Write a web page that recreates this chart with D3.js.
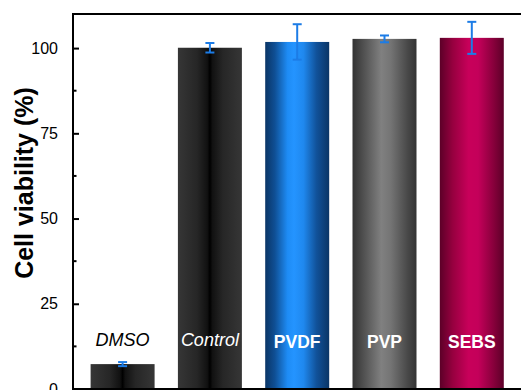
<!DOCTYPE html>
<html>
<head>
<meta charset="utf-8">
<script src="https://cdn.jsdelivr.net/npm/d3@7/dist/d3.min.js"></script>
<style>
  html, body { margin: 0; padding: 0; background: #fff; }
  svg { display: block; }
  text { font-family: "Liberation Sans", Arial, sans-serif; }
</style>
</head>
<body>
<svg id="chart" width="521" height="390"></svg>
<script>
// Cell viability per sample (%), with standard deviation
const categories = ["DMSO", "Control", "PVDF", "PVP", "SEBS"];
const viability = [7.3, 100.1, 101.8, 102.7, 103.0];
const errors = [0.6, 1.4, 5.2, 1.0, 4.7];
const yTicks = [0, 25, 50, 75, 100];
const yMinorTicks = [12.5, 37.5, 62.5, 87.5];

// Bar shading: [offset, colour] stops across the bar width
const shades = [
  [[0, "#363636"], [0.3, "#262626"], [0.46, "#111"], [0.5, "#000"], [0.54, "#111"], [0.7, "#262626"], [1, "#363636"]],
  [[0, "#363636"], [0.3, "#262626"], [0.46, "#111"], [0.5, "#000"], [0.54, "#111"], [0.7, "#262626"], [1, "#363636"]],
  [[0, "#0a3566"], [0.15, "#0f4f94"], [0.35, "#1e8cf5"], [0.45, "#2494ff"], [0.6, "#1f88ee"], [0.8, "#11529a"], [1, "#0a3566"]],
  [[0, "#333333"], [0.2, "#555555"], [0.45, "#808080"], [0.6, "#747474"], [0.85, "#4a4a4a"], [1, "#333333"]],
  [[0, "#5c0028"], [0.2, "#96003f"], [0.45, "#c8005a"], [0.6, "#c4005a"], [0.85, "#85003a"], [1, "#5c0028"]]
];
const labelStyle = [
  { fill: "#000", italic: true },
  { fill: "#fff", italic: true },
  { fill: "#fff", italic: false },
  { fill: "#fff", italic: false },
  { fill: "#fff", italic: false }
];

const svg = d3.select("#chart");
const plotLeft = 73, plotTop = 14, plotBottom = 389, plotRight = 540;

const y = d3.scaleLinear().domain([0, 110]).range([plotBottom, plotTop]);
const x = d3.scaleBand().domain(categories)
  .range([78.95, 515.45]).paddingInner(0.267).paddingOuter(0.1335);

const defs = svg.append("defs");
categories.forEach((c, i) => {
  const g = defs.append("linearGradient").attr("id", "shade" + i)
    .attr("x1", "0%").attr("x2", "100%").attr("y1", "0%").attr("y2", "0%");
  shades[i].forEach(s => g.append("stop").attr("offset", s[0]).attr("stop-color", s[1]));
});

// Bars
svg.append("g").selectAll("rect").data(categories).join("rect")
  .attr("x", d => x(d))
  .attr("width", x.bandwidth())
  .attr("y", (d, i) => y(viability[i]))
  .attr("height", (d, i) => y(0) - y(viability[i]))
  .attr("fill", (d, i) => `url(#shade${i})`);

// Sample names inside / above bars
svg.append("g").selectAll("text").data(categories).join("text")
  .attr("x", d => x(d) + x.bandwidth() / 2)
  .attr("y", (d, i) => labelStyle[i].italic ? 345.5 : 347.5)
  .attr("text-anchor", "middle")
  .attr("font-size", (d, i) => labelStyle[i].italic ? 18 : 17.5)
  .attr("font-style", (d, i) => labelStyle[i].italic ? "italic" : "normal")
  .attr("font-weight", (d, i) => labelStyle[i].italic ? "normal" : "bold")
  .attr("fill", (d, i) => labelStyle[i].fill)
  .text(d => d);

// Error bars
const eb = svg.append("g").attr("stroke", "#1c7ce6").attr("stroke-width", 2).attr("fill", "none");
categories.forEach((c, i) => {
  const cx = x(c) + x.bandwidth() / 2;
  const y1 = y(viability[i] + errors[i]), y2 = y(viability[i] - errors[i]);
  eb.append("line").attr("x1", cx).attr("x2", cx).attr("y1", y1).attr("y2", y2);
  eb.append("line").attr("x1", cx - 4.5).attr("x2", cx + 4.5).attr("y1", y1).attr("y2", y1);
  eb.append("line").attr("x1", cx - 4.5).attr("x2", cx + 4.5).attr("y1", y2).attr("y2", y2);
});

// Frame
svg.append("rect").attr("x", plotLeft).attr("y", plotTop)
  .attr("width", plotRight - plotLeft).attr("height", plotBottom - plotTop)
  .attr("fill", "none").attr("stroke", "#000").attr("stroke-width", 2);

// Y axis with inward ticks
const yAxis = d3.axisLeft(y).tickValues(yTicks).tickSize(-6).tickPadding(15).tickFormat(d3.format("d"));
const ga = svg.append("g").attr("transform", `translate(${plotLeft},0)`).call(yAxis);
ga.select(".domain").remove();
ga.selectAll(".tick line").attr("stroke-width", 2);
ga.selectAll(".tick text").attr("font-size", 16).attr("fill", "#000")
  .attr("font-family", "Liberation Sans, Arial, sans-serif");

svg.append("g").selectAll("line").data(yMinorTicks).join("line")
  .attr("x1", plotLeft).attr("x2", plotLeft + 3.5)
  .attr("y1", d => y(d)).attr("y2", d => y(d))
  .attr("stroke", "#000").attr("stroke-width", 2);

// Y axis title
svg.append("text")
  .attr("transform", "translate(33,183) rotate(-90)")
  .attr("text-anchor", "middle")
  .attr("font-size", 25).attr("font-weight", "bold")
  .text("Cell viability (%)");
</script>
</body>
</html>
